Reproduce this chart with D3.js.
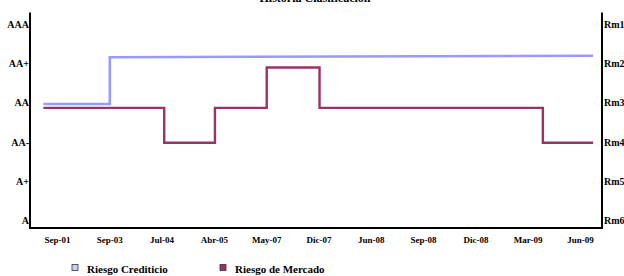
<!DOCTYPE html>
<html><head><meta charset="utf-8">
<script src="https://cdn.jsdelivr.net/npm/d3@7"></script>
<style>body{margin:0;background:#fff}svg{display:block}text{font-family:"Liberation Serif","Times New Roman",serif;font-weight:bold;fill:#000}</style>
</head><body>
<script>
const categories = ["Sep-01","Sep-03","Jul-04","Abr-05","May-07","Dic-07","Jun-08","Sep-08","Dic-08","Mar-09","Jun-09"];
const leftLabels = ["A","A+","AA-","AA","AA+","AAA"];
const rightLabels = ["Rm6","Rm5","Rm4","Rm3","Rm2","Rm1"];
// rating history (x = position on category axis, v = rating level)
const crediticioX = [-0.26, 1.01, 1.01, 10.25];
const crediticioV = [2.97, 2.97, 4.16, 4.2];
const mercadoX = [-0.26, 2.05, 3.02, 4.01, 5.02, 9.29, 10.25];
const mercadoV = [2.87, 1.98, 2.87, 3.9, 2.87, 1.98, 1.98];
const seriesNames = ["Riesgo Crediticio","Riesgo de Mercado"];
const colors = ["#9999ff","#993366"];

const W=624,H=276;
const svg=d3.select("body").append("svg").attr("width",W).attr("height",H);
const L=30,R=602,T=12.5,B=228;
const x=d3.scaleLinear().domain([0,10]).range([57,580]);
const y=d3.scaleLinear().domain([0,5]).range([220.5,24.3]);

svg.append("text").attr("x",315).attr("y",2).attr("text-anchor","middle").style("font-size","12px").text("Historia Clasificación");

const line=d3.line().x(d=>x(d[0])).y(d=>y(d[1]));
svg.append("path").datum(crediticioX.map((v,i)=>[v,crediticioV[i]]))
  .attr("d",line).attr("fill","none").attr("stroke",colors[0]).attr("stroke-width",2.6);
svg.append("path").datum(mercadoX.map((v,i)=>[v,mercadoV[i]]))
  .attr("d",line.curve(d3.curveStepAfter)).attr("fill","none").attr("stroke",colors[1]).attr("stroke-width",2.4);

// frame
svg.append("path").attr("d",`M${L},${T}V${B}H${R}V${T}`).attr("fill","none").attr("stroke","#000").attr("stroke-width",2);

const ya=svg.append("g").attr("transform",`translate(${L-1},0)`)
  .call(d3.axisLeft(y).tickValues(d3.range(6)).tickFormat(i=>leftLabels[i]).tickSize(0).tickPadding(0));
ya.select(".domain").remove();
ya.selectAll("text").style("font-size","10px").style("font-family",'"Liberation Serif",serif');
const yr=svg.append("g").attr("transform",`translate(${R+1},0)`)
  .call(d3.axisRight(y).tickValues(d3.range(6)).tickFormat(i=>rightLabels[i]).tickSize(0).tickPadding(1));
yr.select(".domain").remove();
yr.selectAll("text").style("font-size","10px").style("font-family",'"Liberation Serif",serif');
const xa=svg.append("g").attr("transform",`translate(0,${B})`)
  .call(d3.axisBottom(x).tickValues(d3.range(categories.length)).tickFormat(i=>categories[i]).tickSize(0).tickPadding(9));
xa.select(".domain").remove();
xa.selectAll("text").style("font-size","9px").style("font-family",'"Liberation Serif",serif');

const lg=[{x:72,name:seriesNames[0],fill:"#ccccff"},{x:220,name:seriesNames[1],fill:colors[1]}];
lg.forEach(d=>{
  svg.append("rect").attr("x",d.x).attr("y",264.5).attr("width",6).attr("height",6).attr("fill",d.fill).attr("stroke","#333").attr("stroke-width",0.8);
  svg.append("text").attr("x",d.x+15).attr("y",273).style("font-size","11px").text(d.name);
});
</script>
</body></html>
